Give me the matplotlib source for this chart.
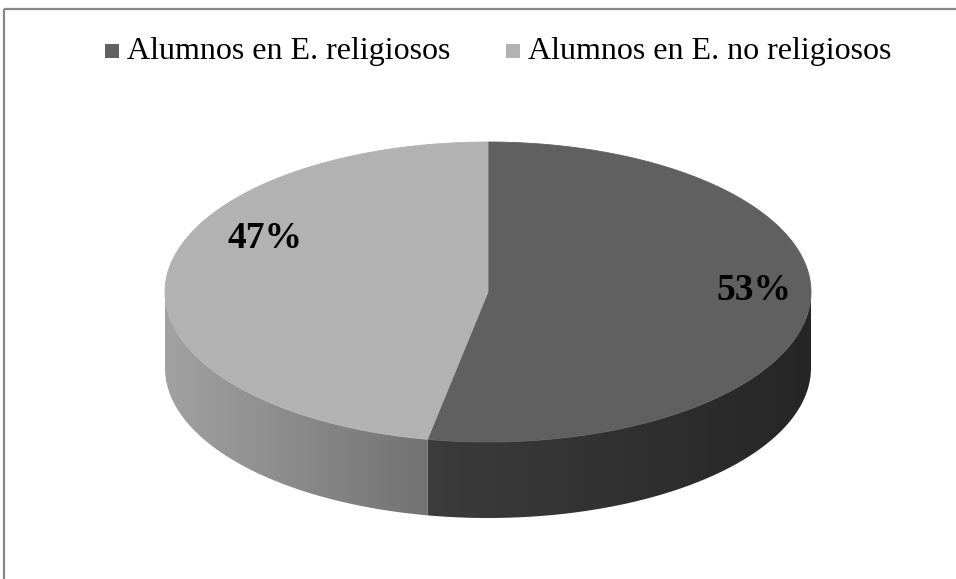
import numpy as np
import matplotlib
matplotlib.use("Agg")
import matplotlib.pyplot as plt
from matplotlib.patches import Polygon, Rectangle

# ---- data ----
categories = ["Alumnos en E. religiosos", "Alumnos en E. no religiosos"]
values = [53, 47]
top_colors = ["#606060", "#b2b2b2"]
side_colors_left = ["#3c3c3c", "#a2a2a2"]    # side colour at the left end of the visible side
side_colors_right = ["#262626", "#727272"]   # side colour at the right end of the visible side
label_pos = [(754, 291), (265, 238)]

W, H = 956, 579
fig = plt.figure(figsize=(W / 100, H / 100), dpi=100)
ax = fig.add_axes([0, 0, 1, 1])
ax.set_xlim(0, W)
ax.set_ylim(H, 0)
ax.axis("off")

# chart border (only top and left visible in the crop)
ax.add_patch(Rectangle((4.5, 9), W + 20, H + 20, fill=False, edgecolor="#868686", lw=1.6))

cx, cy, a, b, depth = 488, 292, 323, 150, 76


def pt(theta_deg, dz=0.0):
    t = np.radians(theta_deg)
    return cx + a * np.sin(t), cy - b * np.cos(t) + dz


total = float(sum(values))
starts = []
acc = 0.0
for v in values:
    starts.append(acc / total * 360)
    acc += v
ends = starts[1:] + [360.0]


def hex2rgb(h):
    h = h.lstrip("#")
    return np.array([int(h[i:i + 2], 16) / 255 for i in (0, 2, 4)])


# side faces (front half: theta in 90..270) with horizontal gradient
for i in range(len(values)):
    s = max(starts[i], 90)
    e = min(ends[i], 270)
    if e <= s:
        continue
    th = np.linspace(s, e, 300)
    top = [pt(t) for t in th]
    bot = [pt(t, depth) for t in th[::-1]]
    poly = Polygon(top + bot, closed=True, facecolor="none", edgecolor="none")
    ax.add_patch(poly)
    xs = [p[0] for p in top]
    x0, x1 = min(xs), max(xs)
    ys = [p[1] for p in top + bot]
    y0, y1 = min(ys), max(ys)
    cl, cr = hex2rgb(side_colors_left[i]), hex2rgb(side_colors_right[i])
    f = np.linspace(0, 1, 256)
    grad = cl[None, :] + (cr - cl)[None, :] * f[:, None]
    img = np.tile(grad[None, :, :], (2, 1, 1))
    im = ax.imshow(img, extent=(x0 - 1, x1 + 1, y1 + 1, y0 - 1), aspect="auto",
                   interpolation="bilinear", zorder=1)
    im.set_clip_path(poly)

# top faces
for i in range(len(values)):
    th = np.linspace(starts[i], ends[i], 200)
    pts = [(cx, cy)] + [pt(t) for t in th]
    ax.add_patch(Polygon(pts, closed=True, facecolor=top_colors[i],
                         edgecolor=top_colors[i], lw=0.6, zorder=2))

ax.set_xlim(0, W)
ax.set_ylim(H, 0)

# labels
for i, v in enumerate(values):
    x, y = label_pos[i]
    ax.text(x, y, f"{v}%", ha="center", va="center", fontsize=27,
            fontweight="bold", family="Liberation Serif", color="black", zorder=3)

# legend
leg_x = [105, 506]
for i, name in enumerate(categories):
    ax.add_patch(Rectangle((leg_x[i], 43.5), 14, 14, facecolor=top_colors[i],
                           edgecolor="none"))
    ax.text(leg_x[i] + 22, 52, name, ha="left", va="center", fontsize=23,
            family="Liberation Serif", color="black")

fig.savefig("out.png", dpi=100)
